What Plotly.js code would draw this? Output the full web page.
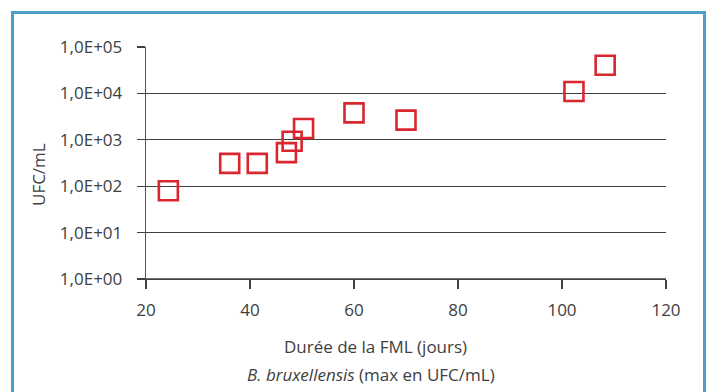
<!DOCTYPE html>
<html>
<head>
<meta charset="utf-8">
<script src="https://cdn.plot.ly/plotly-3.0.1.min.js"></script>
<style>
html,body{margin:0;padding:0;background:#fff;}
#chart{width:708px;height:392px;}
</style>
</head>
<body>
<div id="chart"></div>
<script>
// Data
var dureeJours = [24.3, 36.1, 41.4, 47.0, 48.1, 50.3, 60.0, 70.0, 102.3, 108.3];
var ufcParMl   = [80, 310, 310, 530, 930, 1750, 3800, 2650, 11000, 40500];
var yTickVals  = [1, 10, 100, 1000, 10000, 100000];
var yTickText  = ["1,0E+00", "1,0E+01", "1,0E+02", "1,0E+03", "1,0E+04", "1,0E+05"];
var xTickVals  = [20, 40, 60, 80, 100, 120];

var W = 708, H = 392;
var ML = 146, MR = 42, MT = 47, MB = 113;
var PW = W - ML - MR, PH = H - MT - MB;
function px(x){ return (x - ML) / PW; }
function py(y){ return (H - MB - y) / PH; }

var txt = "#404040";
var font = "Open Sans, Noto Sans, sans-serif";
var fs = 17;

var trace = {
  x: dureeJours,
  y: ufcParMl,
  type: "scatter",
  mode: "markers",
  marker: {symbol: "square-open", size: 19, color: "#d9262f", line: {width: 2.6, color: "#d9262f"}},
  cliponaxis: false,
  hoverinfo: "x+y"
};

var blue = "#4b9fca";
var layout = {
  width: W, height: H,
  margin: {l: ML, r: MR, t: MT, b: MB, pad: 0},
  paper_bgcolor: "#ffffff",
  plot_bgcolor: "#ffffff",
  showlegend: false,
  font: {family: font, size: fs, color: txt},
  xaxis: {
    range: [20, 120],
    tickvals: xTickVals,
    ticktext: xTickVals.map(String),
    showgrid: false,
    zeroline: false,
    showline: true,
    linecolor: "#404040",
    linewidth: 1.3,
    ticks: "outside",
    ticklen: 9,
    tickwidth: 1.3,
    tickcolor: "#404040",
    ticklabelstandoff: 6,
    tickfont: {family: font, size: fs, color: txt},
    fixedrange: true
  },
  yaxis: {
    type: "log",
    range: [0, 5],
    tickvals: yTickVals,
    ticktext: yTickText,
    showgrid: true,
    gridcolor: "#404040",
    gridwidth: 1.3,
    zeroline: false,
    showline: true,
    linecolor: "#555555",
    linewidth: 1.3,
    ticks: "outside",
    ticklen: 8,
    tickwidth: 1.3,
    tickcolor: "#404040",
    ticklabelstandoff: 11,
    tickfont: {family: font, size: fs, color: txt},
    fixedrange: true
  },
  shapes: [
    {type: "line", xref: "paper", yref: "paper", x0: px(12.5), x1: px(12.5), y0: py(12), y1: py(400), line: {color: blue, width: 3}},
    {type: "line", xref: "paper", yref: "paper", x0: px(11), x1: px(706), y0: py(12.5), y1: py(12.5), line: {color: blue, width: 3}},
    {type: "line", xref: "paper", yref: "paper", x0: px(704.5), x1: px(704.5), y0: py(12), y1: py(400), line: {color: blue, width: 3}},
    {type: "line", xref: "paper", yref: "paper", x0: px(146), x1: px(666), y0: py(279), y1: py(279), line: {color: "#404040", width: 1.3}}
  ],
  annotations: [
    {xref: "paper", yref: "paper", x: px(38), y: py(175), text: "UFC/mL", textangle: -90, showarrow: false,
     xanchor: "center", yanchor: "middle", font: {family: font, size: fs, color: txt}},
    {xref: "paper", yref: "paper", x: px(375), y: py(346), text: "Durée de la FML (jours)", showarrow: false,
     xanchor: "center", yanchor: "middle", font: {family: font, size: fs, color: txt}},
    {xref: "paper", yref: "paper", x: px(371), y: py(374), text: "<i>B. bruxellensis</i> (max en UFC/mL)", showarrow: false,
     xanchor: "center", yanchor: "middle", font: {family: font, size: fs, color: txt}}
  ]
};

Plotly.newPlot("chart", [trace], layout, {displayModeBar: false, staticPlot: true});
</script>
</body>
</html>
